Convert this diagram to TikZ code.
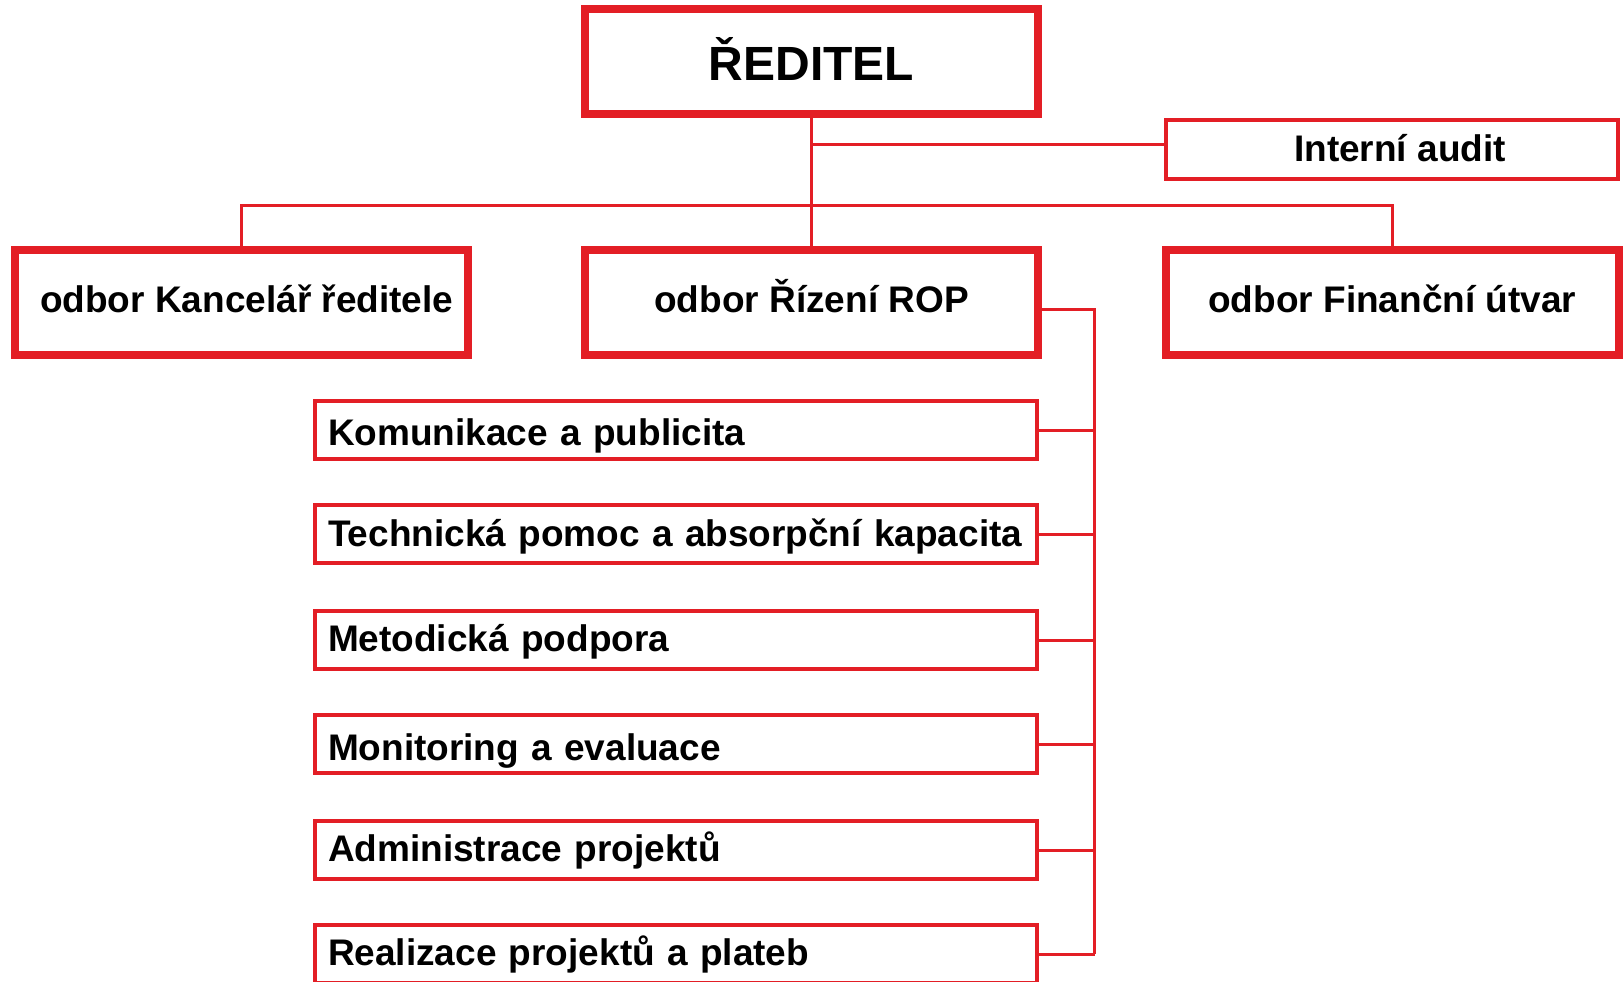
\documentclass[tikz,border=0pt]{standalone}
\usepackage{fontspec}
\setmainfont{Liberation Sans}
\definecolor{orgred}{RGB}{227,30,37}
\begin{document}
\begin{tikzpicture}[x=0.5pt,y=-0.5pt,
  boxbase/.style={draw=orgred, fill=white, inner sep=0pt, text=black,
    font=\fontsize{18.5pt}{22pt}\selectfont\bfseries, text depth=0pt},
  bigbox/.style={boxbase, line width=4pt, minimum width=226.5pt, minimum height=52.3pt, text height=10pt},
  auditbox/.style={boxbase, line width=2pt, minimum width=226pt, minimum height=29.65pt, text height=11.6pt},
  subbox/.style={boxbase, line width=2pt, minimum width=360.75pt, minimum height=29.25pt,
    inner xsep=6.5pt, text width=347.75pt, align=left, text height=11.5pt},
  link/.style={draw=orgred, line width=1.5pt}]
\useasboundingbox (0,0) rectangle (1624,981);
\clip (0,0) rectangle (1624,981);

\coordinate (aj) at (811.5,144.5);
\coordinate (hb) at (811.5,205);
\coordinate (bus) at (1094.5,309.5);

% top level
\node[bigbox, font=\fontsize{24pt}{28pt}\selectfont\bfseries, text height=19pt] (dir) at (811.5,61.75) {ŘEDITEL};
\node[auditbox] (audit) at (1392,149.4) {\hspace*{8pt}Interní audit};
\node[bigbox] (kanc) at (241.25,302.3) {\hspace*{5.5pt}odbor Kancelář ředitele};
\node[bigbox] (rop) at (811.5,302.3) {odbor Řízení ROP};
\node[bigbox] (fin) at (1392.3,302.3) {odbor Finanční útvar};

% sub units
\node[subbox, text height=15pt] (s1) at (675.75,430) {Komunikace a publicita};
\node[subbox, text height=12pt] (s2) at (675.75,534) {Technická pomoc a absorpční kapacita};
\node[subbox] (s3) at (675.75,640) {Metodická podpora};
\node[subbox, text height=16pt] (s4) at (675.75,744) {Monitoring a evaluace};
\node[subbox] (s5) at (675.75,850) {Administrace projektů};
\node[subbox] (s6) at (675.75,954) {Realizace projektů a plateb};

% lines
\draw[link] (dir.south) -- (rop.north);
\draw[link] (aj) -- (aj -| audit.west);
\draw[link] (kanc.north) |- (hb) -| (fin.north);
\draw[link] (rop.east |- bus) -- (bus) -- (bus |- s6.east);
\foreach \s in {s1,s2,s3,s4,s5,s6}
  \draw[link] (\s.east) -- (\s.east -| bus);
\end{tikzpicture}
\end{document}
